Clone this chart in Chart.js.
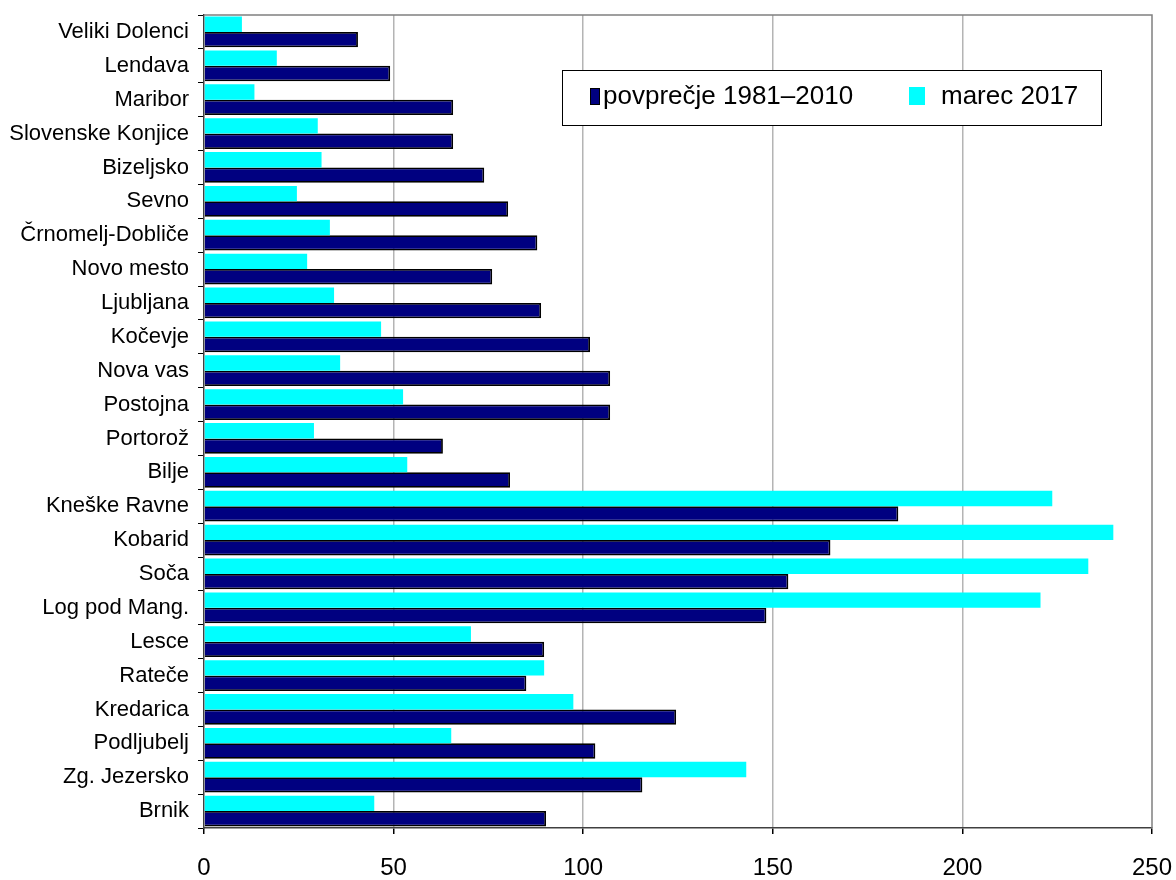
<!DOCTYPE html>
<html>
<head>
<meta charset="utf-8">
<script src="https://cdn.jsdelivr.net/npm/chart.js@4/dist/chart.umd.min.js"></script>
<style>
  html, body { margin: 0; padding: 0; background: #ffffff; }
  #wrap { width: 1176px; height: 880px; }
</style>
</head>
<body>
<div id="wrap"><canvas id="c" width="1176" height="880"></canvas></div>
<script>
// Stations, listed top to bottom
const stations = [
  'Veliki Dolenci', 'Lendava', 'Maribor', 'Slovenske Konjice', 'Bizeljsko', 'Sevno',
  'Črnomelj-Dobliče', 'Novo mesto', 'Ljubljana', 'Kočevje', 'Nova vas', 'Postojna',
  'Portorož', 'Bilje', 'Kneške Ravne', 'Kobarid', 'Soča', 'Log pod Mang.',
  'Lesce', 'Rateče', 'Kredarica', 'Podljubelj', 'Zg. Jezersko', 'Brnik'
];

// Long-term mean 1981–2010
const mean19812010 = [
  40.6, 49.1, 65.7, 65.7, 73.9, 80.2,
  87.9, 76.0, 88.9, 101.8, 107.1, 107.1,
  63.0, 80.7, 183.1, 165.2, 154.1, 148.3,
  89.7, 85.0, 124.5, 103.2, 115.6, 90.2
];

// March 2017
const march2017 = [
  10.0, 19.2, 13.3, 30.0, 31.0, 24.5,
  33.2, 27.2, 34.3, 46.7, 35.9, 52.5,
  29.0, 53.6, 223.7, 239.8, 233.2, 220.6,
  70.4, 89.7, 97.4, 65.2, 143.0, 44.9
];

const xTicks = [0, 50, 100, 150, 200, 250];

const seriesNames = ['povprečje 1981–2010', 'marec 2017'];
const NAVY = '#000080';
const CYAN = '#00FFFF';
const FONT = '"Liberation Sans", Arial, "Helvetica", sans-serif';

// Plot frame and boxed legend inside the plot
const frameAndLegend = {
  id: 'frameAndLegend',
  afterDraw(chart) {
    const { ctx, chartArea: a } = chart;
    ctx.save();
    // frame (top and right edges grey)
    ctx.strokeStyle = '#808080';
    ctx.lineWidth = 1.5;
    ctx.beginPath();
    ctx.moveTo(a.left, a.top);
    ctx.lineTo(a.right, a.top);
    ctx.lineTo(a.right, a.bottom);
    ctx.stroke();

    // legend box
    const bx = 562.5, by = 70.5, bw = 539, bh = 55;
    ctx.fillStyle = '#ffffff';
    ctx.fillRect(bx, by, bw, bh);
    ctx.strokeStyle = '#000000';
    ctx.lineWidth = 1;
    ctx.strokeRect(bx, by, bw, bh);

    ctx.font = '26px ' + FONT;
    ctx.textBaseline = 'middle';
    ctx.textAlign = 'left';
    const cy = 97;

    // navy swatch
    ctx.fillStyle = NAVY;
    ctx.fillRect(590, 88, 10, 17);
    ctx.strokeStyle = '#000000';
    ctx.lineWidth = 1;
    ctx.strokeRect(590.5, 88.5, 9, 16);
    ctx.fillStyle = '#000000';
    ctx.fillText(seriesNames[0], 603, cy);

    // cyan swatch
    ctx.fillStyle = CYAN;
    ctx.fillRect(909, 87, 16, 18);
    ctx.fillStyle = '#000000';
    ctx.fillText(seriesNames[1], 941, cy);
    ctx.restore();
  }
};

new Chart(document.getElementById('c'), {
  type: 'bar',
  data: {
    labels: stations,
    datasets: [
      {
        label: seriesNames[1],
        data: march2017,
        backgroundColor: CYAN,
        borderWidth: 0
      },
      {
        label: seriesNames[0],
        data: mean19812010,
        backgroundColor: NAVY,
        borderColor: '#000000',
        borderWidth: 1.8
      }
    ]
  },
  options: {
    indexAxis: 'y',
    responsive: false,
    animation: false,
    events: [],
    layout: { padding: { top: 15, right: 24, left: 0, bottom: 0 } },
    datasets: {
      bar: { categoryPercentage: 0.91, barPercentage: 1.0 }
    },
    plugins: {
      legend: { display: false },
      tooltip: { enabled: false }
    },
    scales: {
      x: {
        min: 0,
        max: 250,
        afterBuildTicks(scale) {
          scale.ticks = xTicks.map(v => ({ value: v }));
        },
        afterFit(scale) {
          scale.height = 52;
          scale.paddingLeft = 0;
          scale.paddingRight = 0;
        },
        grid: {
          color: (c) => (c.tick && (c.tick.value === 0 || c.tick.value === 250)) ? 'rgba(0,0,0,0)' : '#b4b4b4',
          lineWidth: 1.5,
          tickColor: '#000000',
          tickLength: 6
        },
        border: { color: '#404040', width: 1.5 },
        ticks: {
          color: '#000000',
          padding: 20,
          maxRotation: 0,
          font: { family: FONT, size: 24 }
        }
      },
      y: {
        afterFit(scale) {
          scale.width = 204;
          scale.paddingTop = 0;
          scale.paddingBottom = 0;
        },
        grid: {
          offset: true,
          drawOnChartArea: false,
          tickColor: '#000000',
          tickLength: 6,
          lineWidth: 1
        },
        border: { color: '#404040', width: 1.5 },
        ticks: {
          color: '#000000',
          padding: 9,
          autoSkip: false,
          font: { family: FONT, size: 22 }
        }
      }
    }
  },
  plugins: [frameAndLegend]
});
</script>
</body>
</html>
